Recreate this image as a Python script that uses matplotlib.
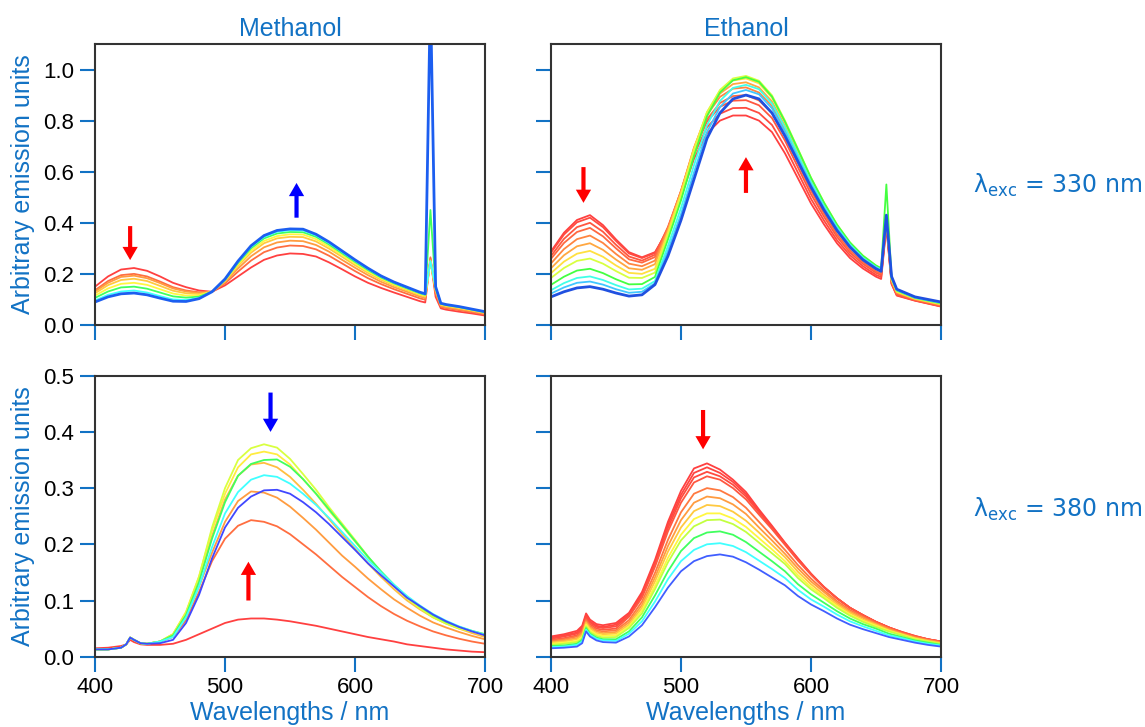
import matplotlib
matplotlib.use("Agg")
import matplotlib.pyplot as plt
import matplotlib.colors as mcolors
from matplotlib.ticker import FormatStrFormatter

# wavelengths (nm) for the two excitation rows
wl_330 = [400, 410, 420, 430, 440, 450, 460, 470, 480, 490, 500, 510, 520, 530, 540, 550, 560,
          570, 580, 590, 600, 610, 620, 630, 640, 650, 654, 658, 662, 666, 670, 680, 690, 700]
wl_e330 = [400, 410, 420, 430, 440, 450, 460, 470, 480, 490, 500, 510, 520, 530, 540, 550, 560,
           570, 580, 590, 600, 610, 620, 630, 640, 650, 654, 658, 662, 666, 680, 700]
wl_380 = [400, 410, 420, 424, 427, 430, 435, 440, 450, 460, 470, 480, 490, 500, 510, 520, 530,
          540, 550, 560, 570, 580, 590, 600, 610, 620, 630, 640, 650, 660, 670, 680, 690, 700]

# Methanol, exc 330 nm (red -> blue)
meoh_330 = [
    [.150, .190, .217, .223, .212, .190, .165, .148, .135, .130, .155, .190, .225, .255, .272, .280, .278,
     .268, .245, .218, .190, .165, .145, .127, .110, .093, .088, .260, .110, .065, .060, .052, .045, .037],
    [.136, .172, .195, .200, .190, .170, .148, .135, .128, .130, .163, .209, .252, .285, .303, .311, .309,
     .296, .271, .241, .211, .183, .160, .140, .122, .104, .099, .265, .123, .071, .066, .058, .050, .042],
    [.131, .165, .188, .193, .183, .164, .143, .131, .125, .130, .168, .221, .269, .304, .323, .330, .328,
     .313, .287, .255, .224, .195, .169, .148, .130, .111, .106, .255, .131, .075, .070, .062, .054, .045],
    [.124, .156, .176, .181, .172, .153, .134, .124, .121, .130, .172, .231, .283, .320, .339, .345, .344,
     .327, .299, .267, .234, .204, .177, .155, .136, .117, .111, .250, .137, .079, .074, .066, .057, .047],
    [.115, .143, .161, .165, .157, .140, .123, .115, .116, .130, .175, .237, .291, .329, .348, .355, .354,
     .336, .307, .274, .241, .209, .182, .159, .140, .120, .115, .250, .141, .081, .076, .068, .058, .049],
    [.106, .131, .147, .150, .142, .127, .112, .107, .111, .130, .177, .243, .300, .339, .358, .364, .363,
     .345, .315, .281, .247, .215, .186, .163, .143, .124, .118, .450, .145, .083, .078, .070, .060, .050],
    [.096, .118, .131, .135, .127, .113, .100, .098, .106, .130, .179, .247, .306, .345, .365, .371, .370,
     .351, .321, .286, .252, .219, .190, .166, .146, .126, .120, .250, .148, .084, .079, .071, .061, .051],
    [.090, .110, .122, .125, .118, .105, .093, .092, .103, .130, .180, .250, .310, .350, .370, .376, .375,
     .355, .325, .290, .255, .222, .192, .168, .148, .128, .122, 1.30, .150, .085, .080, .072, .062, .052],
]

# Ethanol, exc 330 nm
etoh_330 = [
    [.288, .361, .411, .430, .391, .335, .285, .265, .285, .370, .500, .650, .750, .800, .820, .820,
     .800, .755, .672, .574, .476, .394, .320, .262, .221, .189, .180, .385, .160, .115, .095, .072],
    [.283, .354, .402, .420, .383, .329, .280, .262, .282, .377, .512, .667, .774, .827, .849, .850,
     .830, .783, .697, .596, .494, .409, .332, .273, .230, .196, .188, .390, .162, .117, .096, .073],
    [.270, .337, .383, .400, .365, .314, .268, .252, .275, .384, .524, .684, .796, .854, .878, .880,
     .860, .810, .722, .617, .512, .424, .345, .283, .239, .204, .195, .400, .165, .120, .097, .074],
    [.259, .321, .364, .380, .347, .300, .257, .244, .266, .379, .521, .685, .805, .869, .896, .900,
     .879, .829, .738, .632, .526, .436, .355, .292, .246, .210, .201, .410, .168, .123, .099, .076],
    [.241, .297, .336, .350, .321, .278, .240, .230, .252, .378, .525, .693, .822, .893, .925, .930,
     .910, .857, .764, .654, .545, .452, .368, .303, .255, .218, .208, .420, .172, .126, .101, .078],
    [.222, .273, .308, .320, .294, .256, .222, .216, .238, .371, .521, .693, .829, .906, .943, .950,
     .930, .875, .780, .669, .559, .464, .378, .312, .261, .224, .214, .420, .175, .128, .102, .080],
    [.203, .248, .279, .290, .267, .233, .204, .200, .220, .362, .514, .688, .833, .916, .957, .965,
     .946, .890, .792, .681, .569, .473, .387, .318, .267, .229, .219, .420, .178, .130, .103, .081],
    [.184, .223, .251, .260, .240, .211, .185, .184, .205, .351, .505, .680, .832, .920, .965, .975,
     .956, .899, .800, .689, .577, .480, .393, .323, .271, .232, .222, .430, .180, .132, .105, .083],
    [.157, .189, .213, .220, .203, .179, .159, .160, .188, .335, .487, .661, .817, .910, .958, .970,
     .952, .894, .796, .687, .576, .479, .393, .323, .271, .233, .222, .550, .185, .135, .106, .085],
    [.136, .164, .184, .190, .176, .156, .139, .142, .172, .310, .458, .625, .782, .877, .928, .940,
     .923, .867, .773, .666, .560, .466, .383, .315, .263, .227, .217, .430, .185, .137, .107, .087],
    [.123, .147, .165, .170, .158, .140, .126, .130, .163, .290, .433, .597, .755, .853, .906, .920,
     .903, .848, .756, .653, .550, .458, .376, .310, .259, .224, .213, .430, .188, .139, .108, .088],
    [.110, .130, .145, .150, .140, .125, .113, .118, .158, .270, .410, .570, .730, .830, .885, .900,
     .885, .830, .740, .640, .540, .450, .370, .305, .255, .220, .210, .430, .190, .140, .110, .090],
]

# Methanol, exc 380 nm
meoh_380 = [
    [.015, .016, .019, .022, .030, .026, .022, .021, .021, .023, .030, .040, .050, .060, .066, .068, .068,
     .066, .063, .059, .055, .050, .045, .040, .035, .031, .027, .022, .019, .016, .013, .011, .009, .008],
    [.013, .013, .016, .022, .034, .030, .024, .023, .027, .035, .065, .115, .170, .210, .233, .243, .240,
     .232, .218, .200, .182, .162, .142, .124, .106, .090, .076, .064, .054, .045, .038, .032, .027, .023],
    [.013, .013, .016, .022, .034, .030, .024, .023, .027, .037, .072, .125, .185, .240, .277, .294, .292,
     .283, .267, .247, .226, .203, .180, .160, .139, .120, .102, .087, .073, .061, .052, .044, .037, .031],
    [.013, .013, .016, .022, .034, .030, .024, .023, .027, .040, .078, .140, .215, .280, .322, .342, .345,
     .337, .320, .297, .272, .245, .218, .192, .166, .142, .120, .100, .084, .070, .059, .050, .042, .035],
    [.013, .013, .016, .022, .034, .030, .024, .023, .027, .040, .080, .143, .225, .290, .337, .360, .365,
     .360, .342, .316, .290, .260, .233, .205, .177, .150, .127, .105, .087, .072, .061, .052, .045, .038],
    [.013, .013, .016, .022, .034, .030, .024, .023, .027, .040, .078, .142, .230, .300, .350, .371, .378,
     .372, .352, .325, .297, .266, .237, .208, .178, .150, .126, .104, .086, .070, .059, .050, .045, .040],
    [.013, .013, .016, .022, .034, .030, .024, .023, .027, .038, .074, .133, .210, .275, .322, .343, .350,
     .351, .338, .316, .290, .262, .234, .206, .178, .152, .128, .107, .089, .074, .062, .053, .046, .040],
    [.013, .013, .016, .022, .034, .030, .024, .023, .027, .035, .070, .125, .195, .255, .293, .315, .323,
     .320, .308, .290, .270, .247, .222, .197, .172, .150, .128, .108, .091, .076, .064, .054, .046, .039],
    [.013, .013, .016, .022, .034, .030, .024, .023, .024, .030, .060, .110, .175, .230, .265, .285, .296,
     .297, .290, .275, .257, .236, .213, .190, .166, .145, .125, .105, .090, .075, .063, .053, .045, .038],
]

# Ethanol, exc 380 nm
etoh_380 = [
    [.036, .040, .046, .055, .077, .066, .058, .056, .060, .078, .115, .172, .240, .295, .335, .344, .333,
     .315, .293, .262, .233, .203, .175, .148, .124, .104, .087, .074, .062, .052, .043, .036, .031, .027],
    [.034, .038, .043, .052, .074, .063, .055, .053, .057, .075, .112, .168, .235, .288, .327, .337, .327,
     .311, .289, .259, .231, .202, .174, .147, .124, .104, .087, .074, .062, .052, .043, .036, .031, .027],
    [.032, .036, .041, .049, .071, .061, .053, .051, .054, .073, .109, .164, .229, .282, .319, .329, .321,
     .306, .285, .257, .229, .201, .173, .147, .124, .104, .087, .074, .062, .052, .044, .037, .031, .027],
    [.030, .033, .038, .047, .068, .058, .050, .048, .050, .071, .105, .160, .223, .274, .310, .321, .315,
     .300, .280, .253, .227, .199, .171, .146, .123, .104, .087, .074, .062, .052, .044, .037, .031, .027],
    [.028, .031, .036, .044, .065, .055, .047, .045, .047, .065, .098, .149, .208, .257, .290, .300, .296,
     .284, .265, .240, .215, .190, .163, .139, .118, .099, .083, .071, .060, .050, .042, .035, .030, .026],
    [.026, .029, .033, .041, .062, .052, .045, .042, .044, .061, .092, .141, .197, .243, .274, .285, .282,
     .271, .254, .230, .207, .183, .157, .134, .115, .096, .080, .069, .058, .049, .041, .034, .029, .025],
    [.025, .027, .031, .038, .060, .050, .042, .040, .041, .057, .087, .134, .187, .230, .259, .270, .268,
     .258, .242, .221, .199, .177, .151, .129, .110, .093, .078, .066, .057, .047, .040, .033, .028, .024],
    [.023, .025, .028, .035, .057, .047, .040, .037, .038, .054, .082, .126, .176, .217, .245, .255, .255,
     .246, .231, .211, .191, .170, .145, .124, .107, .090, .075, .064, .055, .046, .039, .032, .027, .023],
    [.021, .023, .026, .032, .054, .044, .037, .034, .035, .051, .077, .120, .168, .207, .232, .243, .244,
     .236, .222, .203, .184, .165, .140, .120, .104, .087, .073, .062, .053, .045, .038, .031, .027, .023],
    [.019, .020, .023, .030, .051, .041, .034, .031, .031, .045, .070, .109, .152, .188, .211, .221, .223,
     .217, .204, .187, .170, .152, .129, .111, .096, .081, .068, .058, .050, .041, .035, .029, .025, .021],
    [.017, .018, .021, .027, .048, .039, .032, .029, .028, .041, .063, .098, .138, .170, .190, .200, .202,
     .197, .186, .171, .156, .140, .119, .102, .089, .075, .063, .054, .046, .038, .033, .027, .023, .020],
    [.015, .016, .018, .024, .045, .036, .029, .026, .025, .036, .056, .088, .123, .152, .170, .179, .182,
     .178, .168, .155, .141, .127, .108, .093, .081, .068, .057, .049, .042, .035, .030, .025, .021, .018],
]

# hues used for each panel's rainbow (red -> blue)
hues_m330 = [0.0, 0.04, 0.08, 0.12, 0.16, 0.36, 0.5, 0.6]
hues_e330 = [0.0, 0.01, 0.02, 0.035, 0.06, 0.09, 0.14, 0.2, 0.33, 0.48, 0.55, 0.64]
hues_m380 = [0.0, 0.04, 0.08, 0.11, 0.15, 0.2, 0.36, 0.5, 0.66]
hues_e380 = [0.0, 0.005, 0.01, 0.02, 0.05, 0.08, 0.12, 0.16, 0.22, 0.36, 0.5, 0.64]

BLUE = "#1272c4"
plt.rcParams["font.family"] = ["Liberation Sans", "DejaVu Sans"]
plt.rcParams["mathtext.fontset"] = "dejavusans"

fig = plt.figure(figsize=(11.45, 7.27), dpi=100)
ax_tl = fig.add_axes([0.0830, 0.5530, 0.3406, 0.3865])
ax_tr = fig.add_axes([0.4812, 0.5530, 0.3406, 0.3865])
ax_bl = fig.add_axes([0.0830, 0.0967, 0.3406, 0.3865])
ax_br = fig.add_axes([0.4812, 0.0967, 0.3406, 0.3865])


def draw(ax, wl, rows, hues, last=None):
    for i, y in enumerate(rows):
        c = mcolors.hsv_to_rgb((hues[i], 0.75, 1.0))
        lw = 1.3
        if last is not None and i == len(rows) - 1:
            c, lw = last, 2.0
        ax.plot(wl, y, color=c, lw=lw)


def arrow(ax, x, y0, y1, color):
    ax.annotate("", xy=(x, y1), xytext=(x, y0),
                arrowprops=dict(arrowstyle="simple,head_length=0.95,head_width=1.1,tail_width=0.3",
                                color=color, mutation_scale=10, shrinkA=0, shrinkB=0, lw=0))


draw(ax_tl, wl_330, meoh_330, hues_m330, last="#1c5ef0")
draw(ax_tr, wl_e330, etoh_330, hues_e330, last="#2050e0")
draw(ax_bl, wl_380, meoh_380, hues_m380)
draw(ax_br, wl_380, etoh_380, hues_e380)

arrow(ax_tl, 427, 0.387, 0.254, "red")
arrow(ax_tl, 555, 0.42, 0.556, "blue")
arrow(ax_tr, 425, 0.618, 0.478, "red")
arrow(ax_tr, 550, 0.517, 0.657, "red")
arrow(ax_bl, 535, 0.47, 0.40, "blue")
arrow(ax_bl, 518, 0.10, 0.169, "red")
arrow(ax_br, 517, 0.439, 0.369, "red")

for ax in (ax_tl, ax_tr, ax_bl, ax_br):
    ax.set_xlim(400, 700)
    ax.set_xticks([400, 500, 600, 700])
    for s in ax.spines.values():
        s.set_color("#333333")
        s.set_linewidth(1.5)
    ax.tick_params(direction="out", length=10.8, width=1.5, color=BLUE, labelsize=16,
                   labelcolor="black", pad=4)
    ax.yaxis.set_major_formatter(FormatStrFormatter("%.1f"))

for ax in (ax_tl, ax_tr):
    ax.set_ylim(0, 1.1)
    ax.set_yticks([0, 0.2, 0.4, 0.6, 0.8, 1.0])
    ax.tick_params(labelbottom=False)
for ax in (ax_bl, ax_br):
    ax.set_ylim(0, 0.5)
    ax.set_yticks([0, 0.1, 0.2, 0.3, 0.4, 0.5])
    ax.set_xlabel("Wavelengths / nm", color=BLUE, fontsize=18, labelpad=2)
for ax in (ax_tr, ax_br):
    ax.tick_params(labelleft=False)
for ax in (ax_tl, ax_bl):
    ax.set_ylabel("Arbitrary emission units", color=BLUE, fontsize=18, labelpad=6)

ax_tl.set_title("Methanol", color=BLUE, fontsize=18, pad=6)
ax_tr.set_title("Ethanol", color=BLUE, fontsize=18, pad=6)

fig.text(0.8498, 0.7345, "λ$_{\\mathrm{exc}}$ = 330 nm", color=BLUE, fontsize=17,
         family="DejaVu Sans", va="baseline")
fig.text(0.8498, 0.2893, "λ$_{\\mathrm{exc}}$ = 380 nm", color=BLUE, fontsize=17,
         family="DejaVu Sans", va="baseline")

fig.savefig("out.png", dpi=100)
